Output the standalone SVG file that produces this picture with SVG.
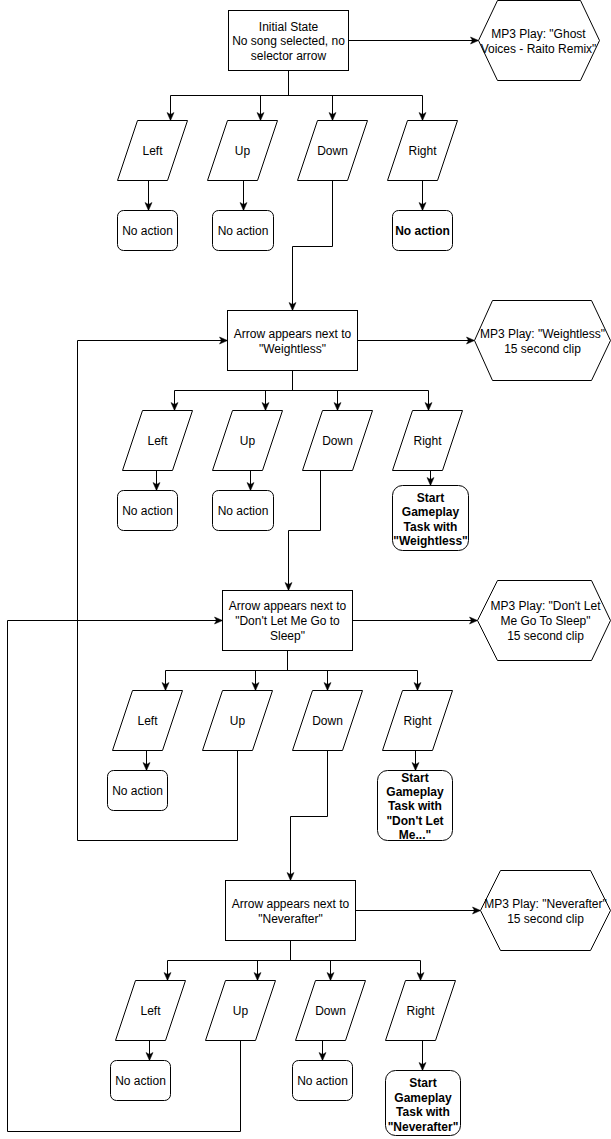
<svg xmlns="http://www.w3.org/2000/svg" width="611" height="1139" viewBox="0 0 611 1139">
<style>
.s{fill:#fff;stroke:#000;stroke-width:1}
.c{fill:none;stroke:#000;stroke-width:1}
text{font-family:"Liberation Sans",Arial,Helvetica,sans-serif;font-size:12px;fill:#000;text-anchor:middle}
.b{font-weight:bold}
</style>
<defs>
<marker id="a" markerUnits="userSpaceOnUse" markerWidth="10" markerHeight="10" viewBox="0 0 10 10" refX="10" refY="5" orient="auto">
<path d="M2,1.5 L10,5 L2,8.5 L4,5 z" fill="#000" stroke="#000" stroke-width="0.5"/>
</marker>
</defs>
<rect width="611" height="1139" fill="#fff"/>
<g transform="translate(0.5,0.5)">
<g id="connectors">
<!-- section 1 -->
<path class="c" d="M288,70 V95 H170 V120" marker-end="url(#a)"/>
<path class="c" d="M288,70 V95 H260 V120" marker-end="url(#a)"/>
<path class="c" d="M288,70 V95 H332 V120" marker-end="url(#a)"/>
<path class="c" d="M288,70 V95 H422 V120" marker-end="url(#a)"/>
<path class="c" d="M348,40 H478" marker-end="url(#a)"/>
<path class="c" d="M148,180 V210" marker-end="url(#a)"/>
<path class="c" d="M243,180 V210" marker-end="url(#a)"/>
<path class="c" d="M422,180 V210" marker-end="url(#a)"/>
<path class="c" d="M332,180 V246 H292 V310" marker-end="url(#a)"/>
<!-- section 2 -->
<path class="c" d="M292,370 V390 H174 V410" marker-end="url(#a)"/>
<path class="c" d="M292,370 V390 H265 V410" marker-end="url(#a)"/>
<path class="c" d="M292,370 V390 H337 V410" marker-end="url(#a)"/>
<path class="c" d="M292,370 V390 H428 V410" marker-end="url(#a)"/>
<path class="c" d="M357,340 H474" marker-end="url(#a)"/>
<path class="c" d="M156,470 V490" marker-end="url(#a)"/>
<path class="c" d="M250,470 V490" marker-end="url(#a)"/>
<path class="c" d="M430,470 V485" marker-end="url(#a)"/>
<path class="c" d="M320,470 V530 H288 V590" marker-end="url(#a)"/>
<!-- section 3 -->
<path class="c" d="M287,650 V670 H165 V690" marker-end="url(#a)"/>
<path class="c" d="M287,650 V670 H255 V690" marker-end="url(#a)"/>
<path class="c" d="M287,650 V670 H327 V690" marker-end="url(#a)"/>
<path class="c" d="M287,650 V670 H417 V690" marker-end="url(#a)"/>
<path class="c" d="M352,620 H477" marker-end="url(#a)"/>
<path class="c" d="M146,750 V770" marker-end="url(#a)"/>
<path class="c" d="M415,750 V770" marker-end="url(#a)"/>
<path class="c" d="M327,750 V816 H290 V880" marker-end="url(#a)"/>
<path class="c" d="M237,750 V840 H77 V340 H227" marker-end="url(#a)"/>
<!-- section 4 -->
<path class="c" d="M290,940 V960 H167 V980" marker-end="url(#a)"/>
<path class="c" d="M290,940 V960 H257 V980" marker-end="url(#a)"/>
<path class="c" d="M290,940 V960 H330 V980" marker-end="url(#a)"/>
<path class="c" d="M290,940 V960 H420 V980" marker-end="url(#a)"/>
<path class="c" d="M355,910 H480" marker-end="url(#a)"/>
<path class="c" d="M149,1040 V1060" marker-end="url(#a)"/>
<path class="c" d="M322,1040 V1060" marker-end="url(#a)"/>
<path class="c" d="M422,1040 V1070" marker-end="url(#a)"/>
<path class="c" d="M240,1040 V1131 H7 V620 H222" marker-end="url(#a)"/>
</g>

<!-- Section 1 -->
<g id="initial">
<rect class="s" x="228" y="10" width="120" height="60"/>
<text x="288" y="30">Initial State</text>
<text x="288" y="44.5">No song selected, no</text>
<text x="288" y="59">selector arrow</text>
</g>
<g id="mp3-ghost">
<polygon class="s" points="478,40 497,0 580,0 599,40 580,80 497,80"/>
<text x="538" y="37">MP3 Play: "Ghost</text>
<text x="538" y="52">Voices - Raito Remix"</text>
</g>
<g id="s1-left"><polygon class="s" points="137,120 187,120 167,180 117,180"/><text x="152" y="154">Left</text></g>
<g id="s1-up"><polygon class="s" points="227,120 277,120 257,180 207,180"/><text x="242" y="154">Up</text></g>
<g id="s1-down"><polygon class="s" points="317,120 367,120 347,180 297,180"/><text x="332" y="154">Down</text></g>
<g id="s1-right"><polygon class="s" points="407,120 457,120 437,180 387,180"/><text x="422" y="154">Right</text></g>
<g id="s1-left-na"><rect class="s" x="117" y="210" width="60" height="40" rx="6"/><text x="147" y="234">No action</text></g>
<g id="s1-up-na"><rect class="s" x="212" y="210" width="61" height="40" rx="6"/><text x="242.5" y="234">No action</text></g>
<g id="s1-right-na"><rect class="s" x="392" y="210" width="60" height="40" rx="6"/><text class="b" x="422" y="234">No action</text></g>

<!-- Section 2 -->
<g id="weightless">
<rect class="s" x="227" y="310" width="130" height="60"/>
<text x="292" y="337">Arrow appears next to</text>
<text x="292" y="352">"Weightless"</text>
</g>
<g id="mp3-weightless">
<polygon class="s" points="474,340 492,300 591,300 610,340 591,380 492,380"/>
<text x="542" y="337">MP3 Play: "Weightless"</text>
<text x="542" y="352">15 second clip</text>
</g>
<g id="s2-left"><polygon class="s" points="142,410 192,410 172,470 122,470"/><text x="157" y="444">Left</text></g>
<g id="s2-up"><polygon class="s" points="232,410 282,410 262,470 212,470"/><text x="247" y="444">Up</text></g>
<g id="s2-down"><polygon class="s" points="322,410 372,410 352,470 302,470"/><text x="337" y="444">Down</text></g>
<g id="s2-right"><polygon class="s" points="412,410 462,410 442,470 392,470"/><text x="427" y="444">Right</text></g>
<g id="s2-left-na"><rect class="s" x="117" y="490" width="60" height="40" rx="6"/><text x="147" y="514">No action</text></g>
<g id="s2-up-na"><rect class="s" x="212" y="490" width="61" height="40" rx="6"/><text x="242.5" y="514">No action</text></g>
<g id="s2-start">
<rect class="s" x="392" y="485" width="76" height="65" rx="10"/>
<text class="b" x="430" y="501">Start</text>
<text class="b" x="430" y="515">Gameplay</text>
<text class="b" x="430" y="530">Task with</text>
<text class="b" x="430" y="544">"Weightless"</text>
</g>

<!-- Section 3 -->
<g id="dontlet">
<rect class="s" x="222" y="590" width="130" height="60"/>
<text x="287" y="609">Arrow appears next to</text>
<text x="287" y="624">"Don't Let Me Go to</text>
<text x="287" y="639">Sleep"</text>
</g>
<g id="mp3-dontlet">
<polygon class="s" points="477,620 497,580 591,580 610,620 591,660 497,660"/>
<text x="545" y="609">MP3 Play: "Don't Let</text>
<text x="545" y="624">Me Go To Sleep"</text>
<text x="545" y="639">15 second clip</text>
</g>
<g id="s3-left"><polygon class="s" points="132,690 182,690 162,750 112,750"/><text x="147" y="724">Left</text></g>
<g id="s3-up"><polygon class="s" points="222,690 272,690 252,750 202,750"/><text x="237" y="724">Up</text></g>
<g id="s3-down"><polygon class="s" points="312,690 362,690 342,750 292,750"/><text x="327" y="724">Down</text></g>
<g id="s3-right"><polygon class="s" points="402,690 452,690 432,750 382,750"/><text x="417" y="724">Right</text></g>
<g id="s3-left-na"><rect class="s" x="107" y="770" width="60" height="40" rx="6"/><text x="137" y="794">No action</text></g>
<g id="s3-start">
<rect class="s" x="377" y="770" width="75" height="70" rx="10"/>
<text class="b" x="414.5" y="781">Start</text>
<text class="b" x="414.5" y="795">Gameplay</text>
<text class="b" x="414.5" y="809.5">Task with</text>
<text class="b" x="414.5" y="824">"Don't Let</text>
<text class="b" x="414.5" y="838">Me..."</text>
</g>

<!-- Section 4 -->
<g id="neverafter">
<rect class="s" x="225" y="880" width="130" height="60"/>
<text x="290" y="907">Arrow appears next to</text>
<text x="290" y="922">"Neverafter"</text>
</g>
<g id="mp3-neverafter">
<polygon class="s" points="480,910 500,870 590,870 610,910 590,950 500,950"/>
<text x="545" y="907">MP3 Play: "Neverafter"</text>
<text x="545" y="922">15 second clip</text>
</g>
<g id="s4-left"><polygon class="s" points="135,980 185,980 165,1040 115,1040"/><text x="150" y="1014">Left</text></g>
<g id="s4-up"><polygon class="s" points="225,980 275,980 255,1040 205,1040"/><text x="240" y="1014">Up</text></g>
<g id="s4-down"><polygon class="s" points="315,980 365,980 345,1040 295,1040"/><text x="330" y="1014">Down</text></g>
<g id="s4-right"><polygon class="s" points="405,980 455,980 435,1040 385,1040"/><text x="420" y="1014">Right</text></g>
<g id="s4-left-na"><rect class="s" x="110" y="1060" width="60" height="40" rx="6"/><text x="140" y="1084">No action</text></g>
<g id="s4-down-na"><rect class="s" x="292" y="1060" width="60" height="40" rx="6"/><text x="322" y="1084">No action</text></g>
<g id="s4-start">
<rect class="s" x="385" y="1070" width="75" height="65" rx="10"/>
<text class="b" x="422.5" y="1086">Start</text>
<text class="b" x="422.5" y="1101">Gameplay</text>
<text class="b" x="422.5" y="1115">Task with</text>
<text class="b" x="422.5" y="1130">"Neverafter"</text>
</g>
</g>
</svg>
